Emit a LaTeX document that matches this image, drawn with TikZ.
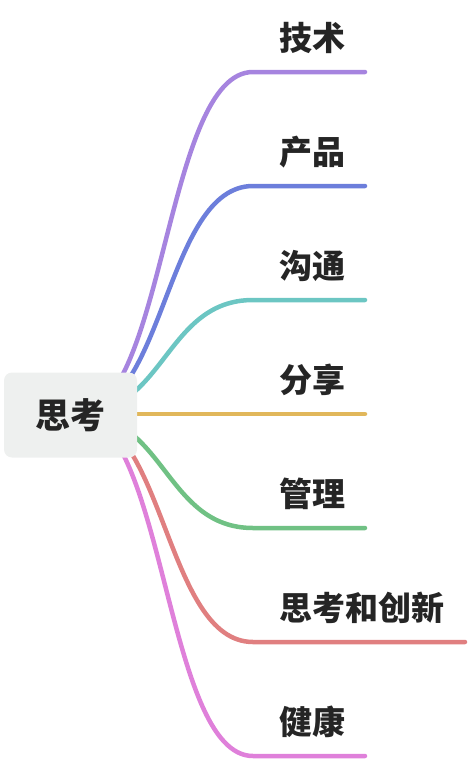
\documentclass[tikz,border=0pt]{standalone}
\usepackage{fontspec}
\newfontfamily\cjk{Noto Sans CJK SC}
\definecolor{txtgray}{HTML}{252525}
\definecolor{rootgray}{HTML}{EEF0EF}
\definecolor{cPurple}{HTML}{A684DF}
\definecolor{cBlue}{HTML}{6C7EDB}
\definecolor{cTeal}{HTML}{6CC6C3}
\definecolor{cYellow}{HTML}{E1B75B}
\definecolor{cGreen}{HTML}{70C184}
\definecolor{cRed}{HTML}{E07F80}
\definecolor{cPink}{HTML}{DF80DA}

\begin{document}
\begin{tikzpicture}[x=1pt, y=-1pt,
		branch/.style={line width=4.5pt, line cap=round},
		leaf/.style={anchor=west, inner sep=0pt, text=txtgray, font=\cjk\bfseries\fontsize{33}{33}\selectfont},
		topic/.style={fill=rootgray, rounded corners=8pt, minimum width=133pt, minimum height=85pt, inner sep=0pt, text=txtgray, font=\cjk\bfseries\fontsize{35}{35}\selectfont}]
		\useasboundingbox (0,0) rectangle (468,764);
		% start of all branches, hidden behind the root box
		\coordinate (src) at (77,414);
		% branch ends
		\coordinate (e1) at (365,72);
		\coordinate (e2) at (365,186);
		\coordinate (e3) at (365,300);
		\coordinate (e4) at (365,414);
		\coordinate (e5) at (365,528);
		\coordinate (e6) at (465,642);
		\coordinate (e7) at (365,756);
		% branches
		\draw[branch, cPurple] (src) .. controls (165,414) and (165,72) .. (253,72) -- (e1);
		\draw[branch, cBlue] (src) .. controls (165,414) and (165,186) .. (253,186) -- (e2);
		\draw[branch, cTeal] (src) .. controls (165,414) and (165,300) .. (253,300) -- (e3);
		\draw[branch, cYellow] (src) -- (e4);
		\draw[branch, cGreen] (src) .. controls (165,414) and (165,528) .. (253,528) -- (e5);
		\draw[branch, cRed] (src) .. controls (165,414) and (165,642) .. (253,642) -- (e6);
		\draw[branch, cPink] (src) .. controls (165,414) and (165,756) .. (253,756) -- (e7);
		% root
		\node[topic] (root) at (70.5,415) {思考};
		% labels
		\node[leaf] (tech) at (279,38) {技术};
		\node[leaf] (prod) at (279,152) {产品};
		\node[leaf] (comm) at (279,266) {沟通};
		\node[leaf] (share) at (279,380) {分享};
		\node[leaf] (mgmt) at (279,494) {管理};
		\node[leaf] (innov) at (279,608) {思考和创新};
		\node[leaf] (health) at (279,722) {健康};
	\end{tikzpicture}
\end{document}
